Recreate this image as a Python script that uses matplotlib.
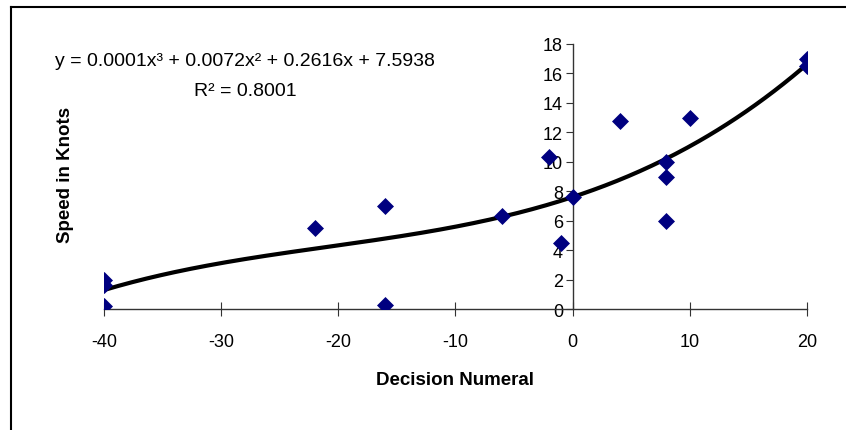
import numpy as np
import matplotlib
matplotlib.use("Agg")
import matplotlib.pyplot as plt
from matplotlib.lines import Line2D

plt.rcParams['font.family'] = ['Liberation Sans', 'DejaVu Sans']
plt.rcParams['axes.unicode_minus'] = False

# decision numeral vs speed
decision = [-40, -40, -40, -22, -16, -16, -6, -2, -1, 0, 4, 8, 8, 8, 10, 20, 20]
speed = [2.0, 1.6, 0.2, 5.5, 7.0, 0.3, 6.3, 10.3, 4.5, 7.6, 12.8, 10.0, 9.0, 6.0, 13.0, 17.0, 16.5]
xticks = [-40, -30, -20, -10, 0, 10, 20]
yticks = list(range(0, 19, 2))
eq_text = "y = 0.0001x³ + 0.0072x² + 0.2616x + 7.5938"
r2_text = "R² = 0.8001"

fig = plt.figure(figsize=(8.46, 4.31), dpi=100)
ax = fig.add_axes([0.1229, 0.2807, 0.9539 - 0.1229, 0.8956 - 0.2807])

# cubic trendline
coef = np.polyfit(decision, speed, 3)
xs = np.linspace(-40, 20, 300)
ax.plot(xs, np.polyval(coef, xs), color='black', lw=3, zorder=2)
ax.scatter(decision, speed, marker='D', s=75, color='#000080', zorder=3, linewidths=0)

ax.set_xlim(-40, 20)
ax.set_ylim(0, 18)
ax.set_xticks(xticks)
ax.set_yticks(yticks)
ax.spines['left'].set_position(('data', 0))
ax.spines['bottom'].set_position(('data', 0))
ax.spines['top'].set_visible(False)
ax.spines['right'].set_visible(False)
for s in ('left', 'bottom'):
    ax.spines[s].set_color('#333333')
    ax.spines[s].set_linewidth(1)
ax.tick_params(axis='x', direction='inout', length=10, pad=12, labelsize=13, color='#333333')
ax.tick_params(axis='y', direction='out', length=5, pad=2, labelsize=13, color='#333333')
ax.patch.set_alpha(0)

fig.text(455 / 846, 1 - 381 / 431, "Decision Numeral", ha='center', va='center',
         fontsize=13.5, fontweight='bold')
fig.text(65 / 846, 1 - 175 / 431, "Speed in Knots", ha='center', va='center',
         rotation=90, fontsize=13.5, fontweight='bold')
fig.text(245 / 846, 1 - 62 / 431, eq_text, ha='center', va='center', fontsize=14)
fig.text(245 / 846, 1 - 92 / 431, r2_text, ha='center', va='center', fontsize=14)

# chart frame (only left and top edges visible)
fig.add_artist(Line2D([11 / 846, 11 / 846], [0, 1 - 7.5 / 431], color='black', lw=1.5,
                      transform=fig.transFigure))
fig.add_artist(Line2D([11 / 846, 1], [1 - 7.5 / 431, 1 - 7.5 / 431], color='black', lw=1.5,
                      transform=fig.transFigure))

fig.savefig("out.png", dpi=100)
